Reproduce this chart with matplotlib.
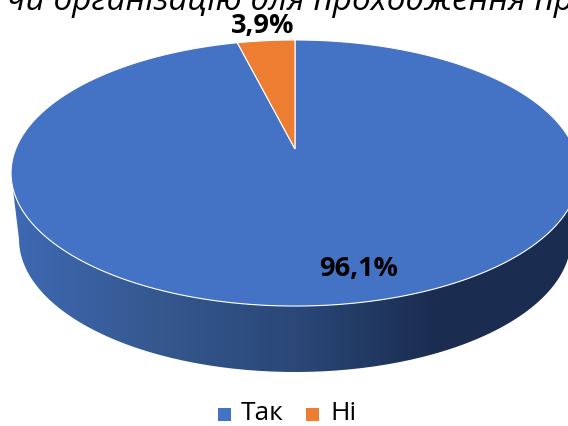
import matplotlib
matplotlib.use('Agg')
import matplotlib.pyplot as plt
import numpy as np
from matplotlib.patches import Polygon, PathPatch, Rectangle
from matplotlib.path import Path
from matplotlib.colors import LinearSegmentedColormap

plt.rcParams['font.family'] = ['Open Sans', 'DejaVu Sans']

labels = ['Так', 'Ні']
values = [96.1, 3.9]
value_labels = ['96,1%', '3,9%']
colors = ['#4472C4', '#ED7D31']
title = 'чи організацію для проходження практики'

fig = plt.figure(figsize=(5.68, 4.27), dpi=100)
ax = fig.add_axes([0, 0, 1, 1])

# pixel coordinates, same as the picture
cx, cy, rx, ry = 295, 174, 284, 133
low_cy, low_rx = 240, 276
# pie centre sits above the middle of the ellipse because of the perspective
pie_y, a, b, p = 150, 279.3, 128.7, 0.1805


def project(u, v):
    return np.column_stack([cx + a * u / (1 + p * v), pie_y - b * v / (1 + p * v)])


# side wall of the cylinder, dark gradient going right
t = np.linspace(np.pi, 0, 200)
wall_x = np.concatenate([cx + rx * np.cos(t), cx + low_rx * np.cos(t[::-1])])
wall_y = np.concatenate([cy + ry * np.sin(t), low_cy + ry * np.sin(t[::-1])])
wall = PathPatch(Path(np.column_stack([wall_x, wall_y])), fc='none', ec='none')
ax.add_patch(wall)
cmap = LinearSegmentedColormap.from_list('wall', ['#3E69B4', '#35588F', '#2A4878', '#1A2C50', '#1A2C50'])
grad = np.linspace(0, 1, 256).reshape(1, -1)
img = ax.imshow(grad, cmap=cmap, extent=[cx - rx, cx + rx, low_cy + ry, cy], aspect='auto', zorder=1)
img.set_clip_path(wall)

# top face, pie slices pushed through the projection
start = 90.0
for val, col in zip(values, colors):
    end = start - val / sum(values) * 360
    ang = np.radians(np.linspace(start, end, 300))
    u = np.concatenate([[0], np.cos(ang)])
    v = np.concatenate([[0], np.sin(ang)])
    ax.add_patch(Polygon(project(u, v), closed=True, fc=col, ec='white', lw=0.8, zorder=2))
    start = end

ax.set_xlim(0, 568)
ax.set_ylim(427, 0)
ax.axis('off')

ax.text(359, 269, value_labels[0], fontsize=19.5, fontweight='bold', ha='center', va='center', zorder=3)
ax.text(263, 26, value_labels[1], fontsize=19.5, fontweight='bold', ha='center', va='center', zorder=3)
ax.text(7, 1, title, fontsize=24, style='italic', ha='left', va='center', zorder=3)

# legend
for x, col, lab, tx in zip([218, 306], colors, labels, [241, 330]):
    ax.add_patch(Rectangle((x, 409), 13, 13, fc=col, ec='none'))
    ax.text(tx, 414, lab, fontsize=19, ha='left', va='center')

fig.savefig('out.png', dpi=100)
